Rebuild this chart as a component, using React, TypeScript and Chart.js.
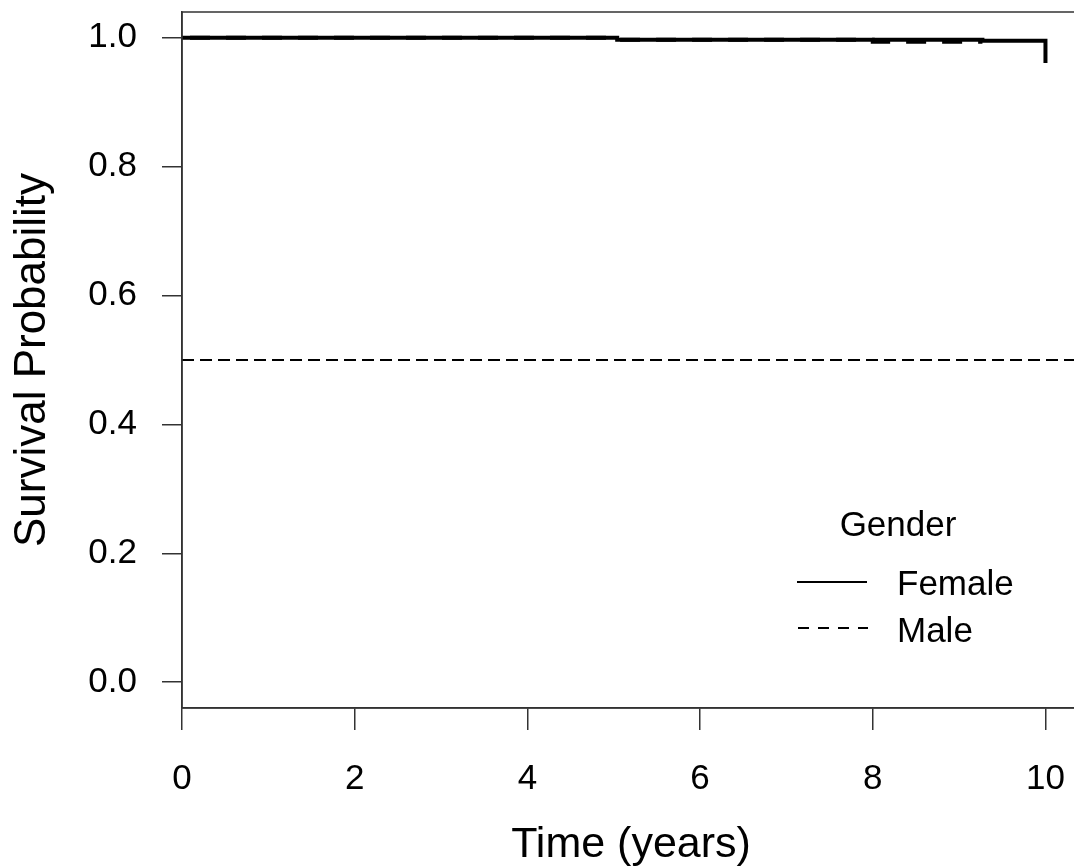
import React, { useEffect, useRef } from "react";
import { Chart, registerables } from "chart.js";

Chart.register(...registerables);

// Kaplan-Meier step data (time in years, survival probability)
const femaleTimes = [0, 5.04, 9.27, 10.0];
const femaleSurv = [1.0, 0.997, 0.9955, 0.961];
const maleTimes = [0, 5.04, 8.0, 9.27];
const maleSurv = [1.0, 0.997, 0.994, 0.994];
// Horizontal median reference line
const refLineX = [0, 10.4];
const refLineY = [0.5, 0.5];

const xTicks = [0, 2, 4, 6, 8, 10];
const yTicks = [0.0, 0.2, 0.4, 0.6, 0.8, 1.0];
const xTitle = "Time (years)";
const yTitle = "Survival Probability";
const legendTitle = "Gender";
const legendLabels = ["Female", "Male"];

const FONT = "'Liberation Sans', Arial, sans-serif";
const AXIS_COLOR = "#333";

const toPoints = (xs: number[], ys: number[]) => xs.map((x, i) => ({ x, y: ys[i] }));

const boxAndLegend = {
  id: "boxAndLegend",
  afterDraw(chart: any) {
    const { ctx, chartArea } = chart;
    ctx.save();
    ctx.strokeStyle = AXIS_COLOR;
    ctx.lineWidth = 1.5;
    ctx.strokeRect(chartArea.left, chartArea.top, chartArea.right - chartArea.left, chartArea.bottom - chartArea.top);

    // legend
    ctx.fillStyle = "#000";
    ctx.font = `35px ${FONT}`;
    ctx.textBaseline = "middle";
    ctx.textAlign = "center";
    ctx.fillText(legendTitle, 898, 526);
    ctx.textAlign = "left";
    ctx.fillText(legendLabels[0], 897, 585);
    ctx.fillText(legendLabels[1], 897, 632);

    ctx.strokeStyle = "#000";
    ctx.lineWidth = 2;
    ctx.beginPath();
    ctx.moveTo(797, 582);
    ctx.lineTo(867, 582);
    ctx.stroke();
    ctx.setLineDash([11, 9]);
    ctx.beginPath();
    ctx.moveTo(798, 628);
    ctx.lineTo(868, 628);
    ctx.stroke();
    ctx.restore();
  },
};

export default function App() {
  const canvasRef = useRef<HTMLCanvasElement | null>(null);

  useEffect(() => {
    if (!canvasRef.current) return;
    const chart = new Chart(canvasRef.current, {
      type: "line",
      data: {
        datasets: [
          {
            label: legendLabels[0],
            data: toPoints(femaleTimes, femaleSurv),
            borderColor: "#000",
            borderWidth: 4,
            stepped: "before",
            pointRadius: 0,
            fill: false,
          },
          {
            label: legendLabels[1],
            data: toPoints(maleTimes, maleSurv),
            borderColor: "#000",
            borderWidth: 4,
            borderDash: [20, 16],
            borderDashOffset: 28,
            stepped: "before",
            pointRadius: 0,
            fill: false,
          },
          {
            label: "ref",
            data: toPoints(refLineX, refLineY),
            borderColor: "#000",
            borderWidth: 2,
            borderDash: [12, 6],
            pointRadius: 0,
            fill: false,
          },
        ],
      },
      options: {
        animation: false,
        responsive: false,
        maintainAspectRatio: false,
        devicePixelRatio: 1,
        layout: { padding: { top: 12, right: 20, left: 0, bottom: 0 } },
        plugins: { legend: { display: false }, tooltip: { enabled: false } },
        scales: {
          x: {
            type: "linear",
            min: 0,
            max: 10.4,
            afterBuildTicks: (s: any) => {
              s.ticks = xTicks.map((v) => ({ value: v }));
            },
            afterFit: (s: any) => {
              s.height = 159;
              s.paddingLeft = 0;
              s.paddingRight = 0;
            },
            ticks: {
              font: { family: FONT, size: 35 },
              color: "#000",
              padding: 28,
              maxRotation: 0,
              autoSkip: false,
              callback: (v: any) => String(v),
            },
            grid: { drawOnChartArea: false, tickLength: 22, color: AXIS_COLOR, lineWidth: 1.5 },
            border: { display: true, color: AXIS_COLOR, width: 1.5 },
            title: { display: true, text: xTitle, font: { family: FONT, size: 43 }, color: "#000", padding: { top: 0, bottom: -4 } },
          },
          y: {
            type: "linear",
            min: -0.04,
            max: 1.04,
            afterBuildTicks: (s: any) => {
              s.ticks = yTicks.map((v) => ({ value: v }));
            },
            afterFit: (s: any) => {
              s.width = 182;
              s.paddingTop = 0;
              s.paddingBottom = 0;
            },
            ticks: {
              font: { family: FONT, size: 35 },
              color: "#000",
              padding: 25,
              autoSkip: false,
              callback: (v: any) => Number(v).toFixed(1),
            },
            grid: { drawOnChartArea: false, tickLength: 20, color: AXIS_COLOR, lineWidth: 1.5 },
            border: { display: true, color: AXIS_COLOR, width: 1.5 },
            title: { display: true, text: yTitle, font: { family: FONT, size: 44 }, color: "#000", padding: { top: 6, bottom: 0 } },
          },
        },
      },
      plugins: [boxAndLegend],
    } as any);
    return () => chart.destroy();
  }, []);

  return (
    <div style={{ position: "fixed", left: 0, top: 0, width: 1074, height: 867, overflow: "hidden", background: "#fff" }}>
      <canvas ref={canvasRef} width={1100} height={867} style={{ display: "block", width: 1100, height: 867 }} />
    </div>
  );
}
